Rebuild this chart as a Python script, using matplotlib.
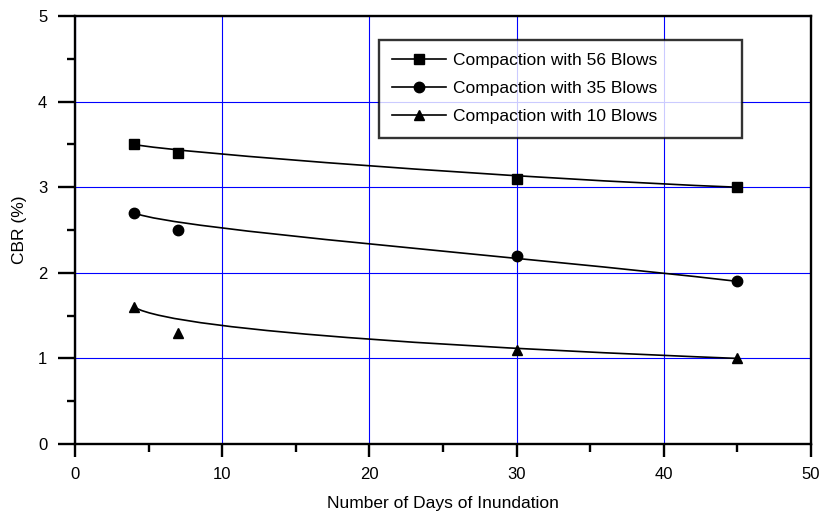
import matplotlib
matplotlib.use('Agg')
import matplotlib.pyplot as plt
from matplotlib.path import Path
from matplotlib.patches import PathPatch
from matplotlib.lines import Line2D
from matplotlib.ticker import MultipleLocator

# --- data ---
days = [4, 7, 30, 45]
cbr_56 = [3.5, 3.4, 3.1, 3.0]
cbr_35 = [2.7, 2.5, 2.2, 1.9]
cbr_10 = [1.6, 1.3, 1.1, 1.0]

series = [
    ('Compaction with 56 Blows', cbr_56, 's'),
    ('Compaction with 35 Blows', cbr_35, 'o'),
    ('Compaction with 10 Blows', cbr_10, '^'),
]

plt.rcParams['font.family'] = ['Liberation Sans', 'DejaVu Sans']

fig = plt.figure(figsize=(8.25, 5.16), dpi=100)
ax = fig.add_axes([0.0909, 0.1395, 0.8921, 0.8295])

handles = []
for label, vals, mk in series:
    # B-spline style curve (data points act as control points)
    verts = list(zip(days, vals))
    codes = [Path.MOVETO, Path.CURVE4, Path.CURVE4, Path.CURVE4]
    ax.add_patch(PathPatch(Path(verts, codes), fill=False, edgecolor='black',
                           lw=1.2, zorder=3))
    ax.plot(days, vals, linestyle='none', marker=mk, color='black', ms=7.5,
            zorder=4, clip_on=False)
    handles.append(Line2D([], [], color='black', lw=1.2, marker=mk, ms=7.5))

ax.set_xlim(0, 50)
ax.set_ylim(0, 5)
ax.xaxis.set_major_locator(MultipleLocator(10))
ax.xaxis.set_minor_locator(MultipleLocator(5))
ax.yaxis.set_major_locator(MultipleLocator(1))
ax.yaxis.set_minor_locator(MultipleLocator(0.5))

ax.grid(True, which='major', color='#0000ff', lw=0.8)
ax.set_axisbelow(True)

for sp in ax.spines.values():
    sp.set_linewidth(1.7)
ax.tick_params(which='both', direction='out', width=1.7, labelsize=12)
ax.tick_params(axis='x', which='major', length=9.5, pad=7)
ax.tick_params(axis='y', which='major', length=12, pad=8)
ax.tick_params(which='minor', length=6)

ax.set_xlabel('Number of Days of Inundation', fontsize=12.5, labelpad=10)
ax.set_ylabel('CBR (%)', fontsize=12.5, labelpad=8)

leg = ax.legend(handles, [s[0] for s in series], loc='upper left',
                bbox_to_anchor=(0.413, 0.944, 0.493, 0.0), mode='expand',
                fontsize=12.5, frameon=True, fancybox=False, handlelength=3.1,
                handletextpad=0.4, borderpad=0.75, labelspacing=0.75,
                borderaxespad=0)
leg.get_frame().set_edgecolor('black')
leg.get_frame().set_linewidth(1.7)

fig.savefig('out.png', dpi=100)
